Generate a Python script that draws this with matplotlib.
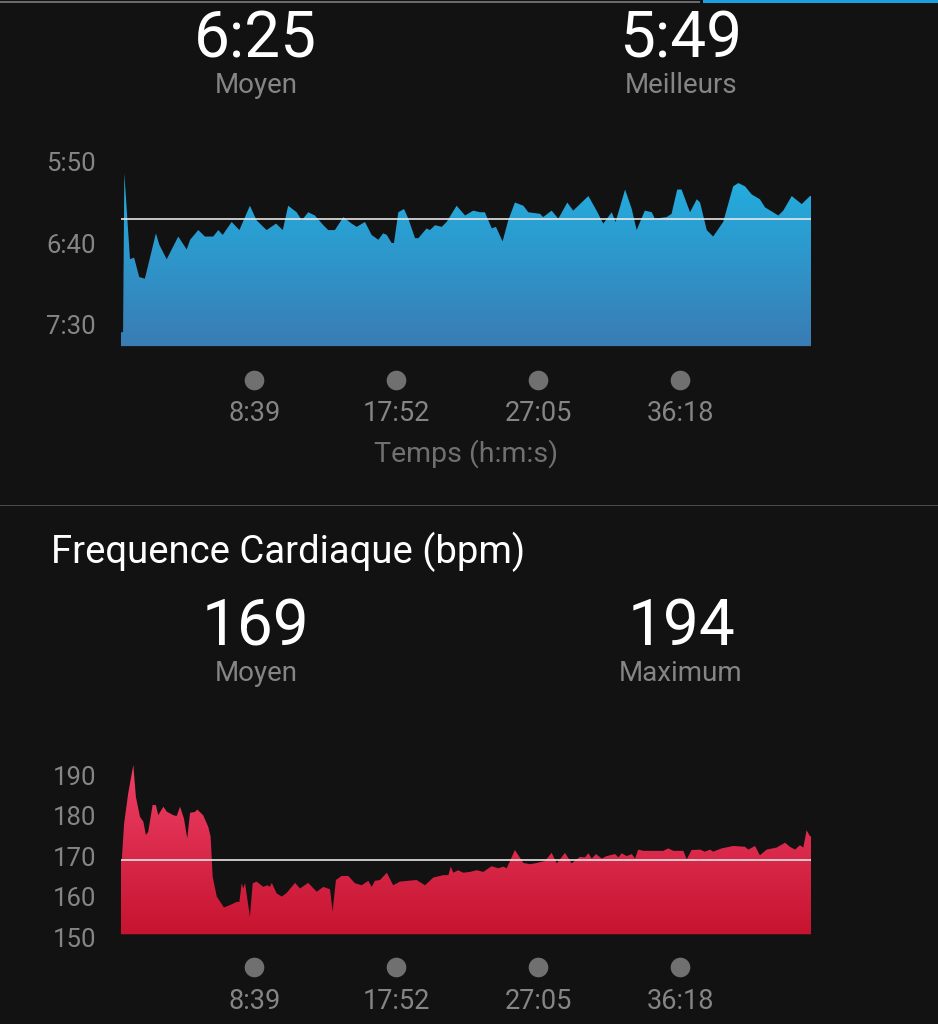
import numpy as np
import matplotlib
matplotlib.use("Agg")
import matplotlib.pyplot as plt
from matplotlib.colors import LinearSegmentedColormap
from matplotlib.patches import PathPatch, Rectangle
from matplotlib.transforms import blended_transform_factory

plt.rcParams['font.family'] = ['Roboto', 'DejaVu Sans']

# allure (s/km) vs temps (s)
pace_t = [0, 8, 13, 35, 51, 71, 93, 136, 149, 178,
          223, 256, 269, 301, 327, 359, 379, 396, 431, 461,
          502, 528, 567, 604, 630, 651, 684, 704, 729, 755,
          788, 807, 833, 866, 898, 918, 950, 976, 1002, 1021,
          1035, 1054, 1063, 1080, 1102, 1119, 1145, 1158, 1190, 1203,
          1223, 1249, 1268, 1307, 1340, 1372, 1398, 1417, 1444, 1460,
          1486, 1508, 1534, 1567, 1586, 1632, 1644, 1677, 1703, 1738,
          1761, 1820, 1852, 1878, 1911, 1926, 1963, 1989, 2008, 2040,
          2067, 2079, 2125, 2144, 2166, 2183, 2216, 2242, 2255, 2281,
          2306, 2345, 2384, 2404, 2430, 2456, 2488, 2508, 2560, 2579,
          2612, 2651, 2683, 2687]
pace_s = [455, 455, 357, 410, 409, 421, 422, 394, 401, 410,
          396, 404, 398, 392, 396, 396, 392, 395, 387, 392,
          377, 386, 392, 388, 392, 377, 381, 386, 381, 383,
          389, 392, 392, 384, 388, 390, 387, 395, 398, 394,
          395, 400, 400, 381, 379, 385, 397, 397, 391, 392,
          389, 390, 387, 377, 383, 380, 381, 381, 391, 390,
          399, 386, 375, 377, 381, 382, 384, 380, 385, 375,
          380, 371, 380, 388, 381, 387, 367, 379, 392, 380,
          381, 385, 384, 382, 367, 367, 381, 373, 375, 392,
          396, 387, 365, 363, 365, 370, 373, 378, 383, 380,
          371, 376, 371, 371]
pace_avg = 385
pace_ticks = [350, 400, 450]
pace_labels = ['5:50', '6:40', '7:30']

# frequence cardiaque (bpm) vs temps (s)
hr_t = [0, 3, 12, 28, 48, 58, 74, 87, 97, 106,
        123, 136, 145, 165, 178, 204, 217, 230, 245, 258,
        269, 288, 297, 320, 340, 349, 357, 373, 401, 424,
        451, 461, 470, 476, 483, 502, 513, 528, 554, 570,
        580, 587, 606, 626, 645, 678, 697, 729, 762, 788,
        814, 824, 837, 859, 885, 911, 937, 963, 976, 989,
        1009, 1035, 1060, 1086, 1151, 1184, 1216, 1255, 1275, 1284,
        1294, 1313, 1333, 1359, 1385, 1411, 1443, 1469, 1489, 1502,
        1534, 1567, 1593, 1619, 1651, 1677, 1697, 1729, 1755, 1787,
        1807, 1820, 1833, 1850, 1872, 1891, 1924, 1937, 1950, 1969,
        1989, 2002, 2014, 2034, 2112, 2131, 2151, 2190, 2203, 2222,
        2255, 2274, 2294, 2306, 2339, 2384, 2430, 2443, 2469, 2488,
        2514, 2553, 2586, 2605, 2625, 2644, 2657, 2670, 2683, 2687]
hr_bpm = [169, 169, 178, 185.5, 192.5, 184.6, 179.7, 178.5, 175.2, 176,
          182.6, 182.6, 180.1, 182.2, 181, 180.1, 179.9, 182.2, 179.3, 174.4,
          180.7, 180.9, 181.5, 180.1, 177.2, 174.8, 164.9, 160, 157.3, 157.9,
          158.7, 158.7, 163.3, 162, 163.3, 155, 163.3, 163.7, 162.4, 162.8,
          162.4, 163.4, 160.8, 160, 160.9, 163.4, 162, 163.4, 161.2, 162.4,
          161.8, 156.3, 164.1, 165.1, 165.1, 163.3, 162.8, 163.9, 162.4, 163.9,
          164.1, 165.9, 162.8, 163.7, 164.1, 162.8, 164.7, 165.3, 165.3, 167.4,
          165.9, 166.5, 165.9, 166.1, 166.5, 166.1, 167.5, 167, 167.4, 167,
          171.5, 168.3, 168, 168.3, 168.8, 170.8, 168.2, 170.8, 168.2, 169.8,
          169.7, 170.7, 169.4, 170.5, 169.4, 170, 170.5, 169.7, 170.7, 170,
          170.5, 169.4, 171.6, 171.3, 171.3, 171.9, 171.3, 171.3, 169.2, 171.5,
          171.6, 171.1, 171.6, 171.1, 171.9, 172.5, 172.3, 171.6, 172.5, 170.2,
          171.6, 172.1, 173.3, 172.3, 171.6, 172.7, 172.1, 176.4, 174.9, 174.9]
hr_avg = 169
hr_ticks = [190, 180, 170, 160, 150]

time_ticks = [519, 1072, 1625, 2178]
time_labels = ['8:39', '17:52', '27:05', '36:18']

W, H = 938, 1024
BG = '#121212'
GREY = '#858585'

fig = plt.figure(figsize=(W / 100, H / 100), dpi=100, facecolor=BG)


def px_axes(x0, y0, x1, y1):
    ax = fig.add_axes([x0 / W, 1 - y1 / H, (x1 - x0) / W, (y1 - y0) / H])
    ax.set_facecolor('none')
    for s in ax.spines.values():
        s.set_visible(False)
    return ax


def ftext(x, y, s, **kw):
    fig.text(x / W, 1 - y / H, s, **kw)


def gradient_area(ax, t, v, base, c_lo, c_hi, ylo, yhi):
    poly = ax.fill_between(t, v, base, facecolor='none', lw=0)
    clip = PathPatch(poly.get_paths()[0], transform=ax.transData,
                     facecolor='none', edgecolor='none')
    ax.add_patch(clip)
    cmap = LinearSegmentedColormap.from_list('g', [c_lo, c_hi])
    grad = np.linspace(0, 1, 256).reshape(-1, 1)
    im = ax.imshow(grad, cmap=cmap, aspect='auto', origin='lower',
                   extent=[t[0], t[-1], ylo, yhi], interpolation='bicubic',
                   zorder=1)
    im.set_clip_path(clip)


def time_axis(ax, y_dot, y_lab):
    tr = blended_transform_factory(ax.transData, fig.transFigure)
    ax.scatter(time_ticks, [1 - y_dot / H] * 4, s=200, color='#707070',
               transform=tr, clip_on=False, lw=0)
    for t, lab in zip(time_ticks, time_labels):
        ax.text(t, 1 - y_lab / H, lab, transform=tr, ha='center',
                va='baseline', fontsize=19.5, color=GREY)


# barre du haut + separateur
fig.add_artist(Rectangle((0, 1 - 3 / H), 700 / W, 2 / H, transform=fig.transFigure,
                         color='#6a6a6a', lw=0))
fig.add_artist(Rectangle((703 / W, 1 - 3 / H), 235 / W, 3 / H, transform=fig.transFigure,
                         color='#1a9fe0', lw=0))
fig.add_artist(Rectangle((0, 1 - 506 / H), 1, 1.5 / H, transform=fig.transFigure,
                         color='#4a4a4a', lw=0))

# allure
ftext(255, 57, '6:25', ha='center', va='baseline', fontsize=46, color='white')
ftext(681, 57, '5:49', ha='center', va='baseline', fontsize=46, color='white')
ftext(256, 93, 'Moyen', ha='center', va='baseline', fontsize=20, color=GREY)
ftext(681, 93, 'Meilleurs', ha='center', va='baseline', fontsize=20, color=GREY)

ax1 = px_axes(121, 150, 811, 350)
p_top, p_bot = 342.6, 466.0
gradient_area(ax1, pace_t, pace_s, 463.6, '#1fb6e6', '#3a7bb3', p_top, p_bot)
ax1.axhline(pace_avg, color='#e6e6e6', lw=1.2, zorder=3)
ax1.set_xlim(0, 2687)
ax1.set_ylim(p_bot, p_top)
ax1.set_xticks([])
ax1.set_yticks(pace_ticks, labels=pace_labels)
ax1.tick_params(axis='y', length=0, pad=18, labelcolor=GREY, labelsize=18.5)
time_axis(ax1, 380, 421)
ftext(466, 462, 'Temps (h:m:s)', ha='center', va='baseline', fontsize=20.5, color='#707070')

# frequence cardiaque
ftext(51, 563, 'Frequence Cardiaque (bpm)', ha='left', va='baseline', fontsize=27.5, color='white')
ftext(255, 645, '169', ha='center', va='baseline', fontsize=46, color='white')
ftext(681, 645, '194', ha='center', va='baseline', fontsize=46, color='white')
ftext(256, 681, 'Moyen', ha='center', va='baseline', fontsize=20, color=GREY)
ftext(681, 681, 'Maximum', ha='center', va='baseline', fontsize=20, color=GREY)

ax2 = px_axes(121, 750, 811, 946)
h_lo, h_hi = 147.8, 196.2
gradient_area(ax2, hr_t, hr_bpm, 150.7, '#c4102c', '#f2456c', h_lo, h_hi)
ax2.axhline(hr_avg, color='#e6e6e6', lw=1.2, zorder=3)
ax2.set_xlim(0, 2687)
ax2.set_ylim(h_lo, h_hi)
ax2.set_xticks([])
ax2.set_yticks(hr_ticks, labels=[str(v) for v in hr_ticks])
ax2.tick_params(axis='y', length=0, pad=18, labelcolor=GREY, labelsize=18.5)
time_axis(ax2, 967, 1009)

fig.savefig('out.png', dpi=100, facecolor=BG)
